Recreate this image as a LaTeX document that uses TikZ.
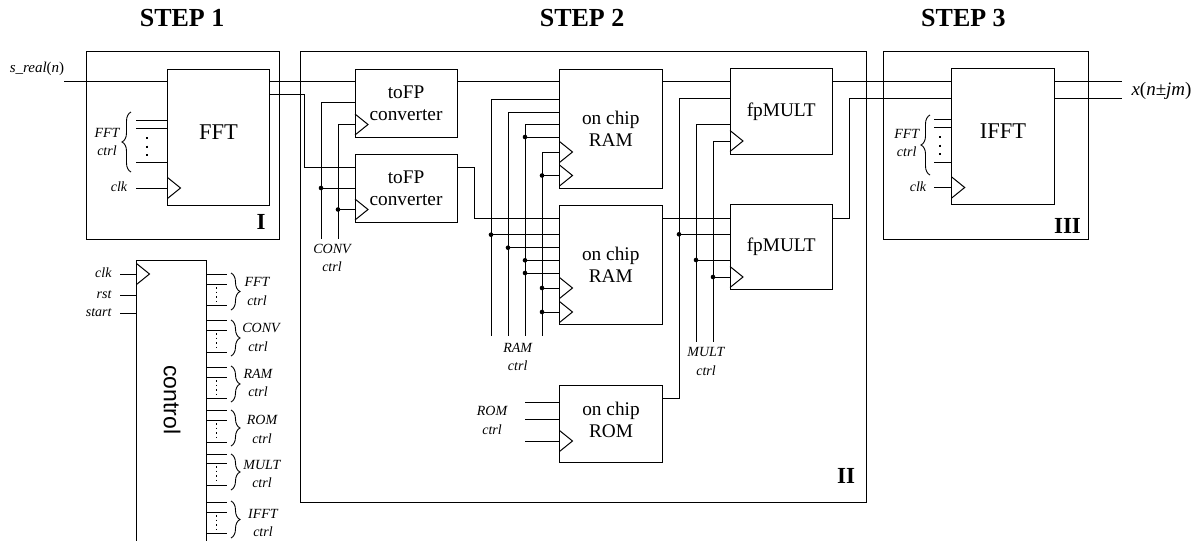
\documentclass[tikz,border=0pt]{standalone}
\usepackage{fontspec}
\setmainfont{Liberation Serif}
\setsansfont{Liberation Sans}
\usetikzlibrary{decorations.pathreplacing}
\newcommand{\ctrlfont}{\fontsize{14}{16}\selectfont\itshape}

\begin{document}
\begin{tikzpicture}[x=1pt, y=-1pt, line width=1pt,
    block/.style={draw, rectangle, anchor=north west, inner sep=0pt, outer sep=0pt, align=center, font=\fontsize{19.3}{22}\selectfont},
    stagebox/.style={draw, rectangle, anchor=north west, inner sep=0pt, outer sep=0pt},
    wire/.style={draw},
    junct/.style={circle, fill, inner sep=0pt, minimum size=4.6pt, outer sep=0pt},
    lbl/.style={font=\ctrlfont, inner sep=0pt, align=center, text height=9pt, text depth=2pt},
    steplbl/.style={font=\fontsize{26}{28}\bfseries, inner sep=0pt, anchor=west},
    stagelbl/.style={font=\fontsize{23}{25}\selectfont\bfseries, inner sep=0pt},
    blockname/.style={font=\fontsize{22.5}{24}\selectfont, inner sep=0pt},
    lbrace/.style={decorate, decoration={brace, amplitude=9pt}, line width=0.9pt},
    rbrace/.style={decorate, decoration={brace, amplitude=9pt}, line width=0.9pt},
    bigdots/.style={line width=2pt, dash pattern=on 2pt off 6.6pt},
    tinydots/.style={line width=1pt, dash pattern=on 1.5pt off 3.1pt},
    clktri/.pic={\draw (0,-10.5) -- (13,0) -- (0,10.5);}]
  \useasboundingbox (0,0) rectangle (1200,541);
  \clip (0,0) rectangle (1200,541);

  \node[steplbl] (step1) at (139.3,18.5) {STEP 1};
  \node[steplbl] (step2) at (539.3,18.5) {STEP 2};
  \node[steplbl] (step3) at (920.7,18.5) {STEP 3};

  % stages
  \node[stagebox, minimum width=193pt, minimum height=187.5pt] (stage1) at (86,51.5) {};
  \node[stagebox, minimum width=566pt, minimum height=450.5pt] (stage2) at (300.7,51.5) {};
  \node[stagebox, minimum width=205pt, minimum height=187.5pt] (stage3) at (883.3,51.5) {};
  \node[stagelbl] (stage1lbl) at (261,221.5) {I};
  \node[stagelbl] (stage2lbl) at (846,476) {II};
  \node[stagelbl] (stage3lbl) at (1067.5,225.6) {III};

  % blocks
  \node[block, minimum width=102pt, minimum height=136pt] (fft) at (167.5,69) {};
  \node[blockname] (fftname) at (218.5,132) {FFT};
  \node[block, minimum width=102pt, minimum height=68pt] (tofpa) at (355,69) {toFP\\converter};
  \node[block, minimum width=102pt, minimum height=68pt] (tofpb) at (355,154) {toFP\\converter};
  \node[block, minimum width=102.5pt, minimum height=119pt] (rama) at (559.5,69) {on chip\\RAM};
  \node[block, minimum width=102.5pt, minimum height=119pt] (ramb) at (559.5,205) {on chip\\RAM};
  \node[block, minimum width=102.5pt, minimum height=77.3pt] (rom) at (559.5,385.5) {};
  \node[inner sep=0pt, align=center, font=\fontsize{19.3}{22}\selectfont] (romname) at (611,419.5) {on chip\\ROM};
  \node[block, minimum width=102.5pt, minimum height=85.3pt] (multa) at (730,68.7) {fpMULT};
  \node[block, minimum width=102.5pt, minimum height=85pt] (multb) at (730,204.7) {fpMULT};
  \node[block, minimum width=102.3pt, minimum height=136.4pt] (ifft) at (951.7,68.3) {};
  \node[blockname] (ifftname) at (1003,131) {IFFT};
  \node[block, minimum width=69.5pt, minimum height=300pt] (ctrlblk) at (136.5,260.5) {};
  \node[rotate=-90, inner sep=0pt, font=\fontsize{23}{25}\selectfont\sffamily] (ctrlname) at (172,400) {control};

  % clock marks
  \pic at (fft.west |- 0,188) {clktri};
  \pic at (tofpa.west |- 0,124.5) {clktri};
  \pic at (tofpb.west |- 0,209.5) {clktri};
  \pic at (rama.west |- 0,152) {clktri};
  \pic at (rama.west |- 0,175.5) {clktri};
  \pic at (ramb.west |- 0,288) {clktri};
  \pic at (ramb.west |- 0,312) {clktri};
  \pic at (rom.west |- 0,441) {clktri};
  \pic at (multa.west |- 0,141) {clktri};
  \pic at (multb.west |- 0,277) {clktri};
  \pic at (ifft.west |- 0,187.5) {clktri};
  \pic at (ctrlblk.west |- 0,274) {clktri};

  % Step 1
  \coordinate (srealin) at (64,81.5);
  \draw[wire] (srealin) -- (fft.west |- srealin);
  \node[lbl, font=\fontsize{15}{17}\selectfont\itshape] (sreallbl) at (37,69) {s\_real\textup{(}n\textup{)}};
  \coordinate (fftca) at (136,120);
  \coordinate (fftcb) at (136,128);
  \coordinate (fftcc) at (136,162);
  \coordinate (fftclk) at (136,188);
  \draw[wire] (fftca) -- (fft.west |- fftca);
  \draw[wire] (fftcb) -- (fft.west |- fftcb);
  \draw[wire] (fftcc) -- (fft.west |- fftcc);
  \draw[wire] (fftclk) -- (fft.west |- fftclk);
  \draw[bigdots] (147,137) -- (147,157);
  \draw[lbrace] (131,172) -- (131,112);
  \node[lbl] (fftctrl) at (107,134) {FFT};
  \node[lbl] (fftctrlb) at (107,152) {ctrl};
  \node[lbl] (fftclklbl) at (119,188) {clk};

  % toFP inputs
  \draw[wire] (fft.east |- srealin) -- (tofpa.west |- srealin);
  \coordinate (fftoutb) at (fft.east |- 0,94.5);
  \draw[wire] (fftoutb) -- (304,94.5) |- (tofpb.west |- 0,167);
  \coordinate (convca) at (321,239);
  \coordinate (convcb) at (338,239);
  \draw[wire] (convca) |- (tofpa.west |- 0,102);
  \draw[wire] (convcb) |- (tofpa.west |- 0,124.5);
  \node[junct] (jca) at (321,188) {};
  \node[junct] (jcb) at (338,209.5) {};
  \draw[wire] (jca) -- (tofpb.west |- jca);
  \draw[wire] (jcb) -- (tofpb.west |- jcb);
  \node[lbl] (convlbl) at (332,250) {CONV};
  \node[lbl] (convlblb) at (332,268) {ctrl};

  % toFP to RAM
  \draw[wire] (tofpa.east |- srealin) -- (rama.west |- srealin);
  \draw[wire] (tofpb.east |- 0,167) -- (474,167) |- (ramb.west |- 0,218);

  % RAM ctrl
  \coordinate (ramca) at (491,335.7);
  \coordinate (ramcb) at (508,335.7);
  \coordinate (ramcc) at (525,335.7);
  \coordinate (ramcd) at (542,335.7);
  \draw[wire] (ramca) |- (rama.west |- 0,99);
  \draw[wire] (ramcb) |- (rama.west |- 0,112);
  \draw[wire] (ramcc) |- (rama.west |- 0,124);
  \draw[wire] (ramcd) |- (rama.west |- 0,152);
  \node[junct] (jra) at (525,137) {};
  \node[junct] (jrb) at (542,175.5) {};
  \node[junct] (jrc) at (491,234.7) {};
  \node[junct] (jrd) at (508,247.7) {};
  \node[junct] (jre) at (525,260.3) {};
  \node[junct] (jrf) at (525,273) {};
  \node[junct] (jrg) at (542,288) {};
  \node[junct] (jrh) at (542,312) {};
  \draw[wire] (jra) -- (rama.west |- jra);
  \draw[wire] (jrb) -- (rama.west |- jrb);
  \draw[wire] (jrc) -- (ramb.west |- jrc);
  \draw[wire] (jrd) -- (ramb.west |- jrd);
  \draw[wire] (jre) -- (ramb.west |- jre);
  \draw[wire] (jrf) -- (ramb.west |- jrf);
  \draw[wire] (jrg) -- (ramb.west |- jrg);
  \draw[wire] (jrh) -- (ramb.west |- jrh);
  \node[lbl] (ramlbl) at (517.7,349) {RAM};
  \node[lbl] (ramlblb) at (517.7,367) {ctrl};

  % ROM
  \coordinate (romca) at (525,402.7);
  \coordinate (romcb) at (525,419.3);
  \coordinate (romcc) at (525,441);
  \draw[wire] (romca) -- (rom.west |- romca);
  \draw[wire] (romcb) -- (rom.west |- romcb);
  \draw[wire] (romcc) -- (rom.west |- romcc);
  \node[lbl] (romlbl) at (492,412) {ROM};
  \node[lbl] (romlblb) at (492,430.5) {ctrl};

  % fpMULT
  \draw[wire] (rama.east |- srealin) -- (multa.west |- srealin);
  \draw[wire] (ramb.east |- 0,218) -- (multb.west |- 0,218);
  \draw[wire] (rom.east |- 0,398) -- (679,398) |- (multa.west |- 0,98.3);
  \coordinate (multca) at (696,341.7);
  \coordinate (multcb) at (713,341.7);
  \draw[wire] (multca) |- (multa.west |- 0,124);
  \draw[wire] (multcb) |- (multa.west |- 0,141);
  \node[junct] (jma) at (679,234.3) {};
  \node[junct] (jmb) at (696,260) {};
  \node[junct] (jmc) at (713,277) {};
  \draw[wire] (jma) -- (multb.west |- jma);
  \draw[wire] (jmb) -- (multb.west |- jmb);
  \draw[wire] (jmc) -- (multb.west |- jmc);
  \node[lbl] (multlbl) at (706,353) {MULT};
  \node[lbl] (multlblb) at (706,371.5) {ctrl};

  % Step 3
  \draw[wire] (multa.east |- srealin) -- (ifft.west |- srealin);
  \draw[wire] (multb.east |- 0,218) -- (849.7,218) |- (ifft.west |- 0,98.3);
  \coordinate (xouta) at (1122,81.5);
  \coordinate (xoutb) at (1122,98.3);
  \draw[wire] (ifft.east |- xouta) -- (xouta);
  \draw[wire] (ifft.east |- xoutb) -- (xoutb);
  \node[inner sep=0pt, anchor=west, font=\fontsize{19}{21}\selectfont] (xlbl) at (1131,91) {\textit{x}(\textit{n}±\textit{jm})};
  \coordinate (ifftca) at (934,119);
  \coordinate (ifftcb) at (934,127.7);
  \coordinate (ifftcc) at (934,162);
  \coordinate (ifftclk) at (934,187.5);
  \draw[wire] (ifftca) -- (ifft.west |- ifftca);
  \draw[wire] (ifftcb) -- (ifft.west |- ifftcb);
  \draw[wire] (ifftcc) -- (ifft.west |- ifftcc);
  \draw[wire] (ifftclk) -- (ifft.west |- ifftclk);
  \draw[bigdots] (939.7,136) -- (939.7,157);
  \draw[lbrace] (930,175) -- (930,115);
  \node[lbl] (ifftctrl) at (906.7,135) {FFT};
  \node[lbl] (ifftctrlb) at (906.7,153) {ctrl};
  \node[lbl] (ifftclklbl) at (918,187.5) {clk};

  % control inputs
  \coordinate (cclk) at (120,274);
  \coordinate (crst) at (120,295);
  \coordinate (cstart) at (120,313);
  \draw[wire] (cclk) -- (ctrlblk.west |- cclk);
  \draw[wire] (crst) -- (ctrlblk.west |- crst);
  \draw[wire] (cstart) -- (ctrlblk.west |- cstart);
  \node[lbl, anchor=east] (cclklbl) at (112,274) {clk};
  \node[lbl, anchor=east] (crstlbl) at (112,295) {rst};
  \node[lbl, anchor=east] (cstartlbl) at (112,313) {start};

  % control outputs
  \draw[wire] (ctrlblk.east |- 0,274) -- (227,274);
  \draw[wire] (ctrlblk.east |- 0,284) -- (227,284);
  \draw[wire] (ctrlblk.east |- 0,305) -- (227,305);
  \draw[tinydots] (216,287) -- (216,303);
  \draw[rbrace] (231,273) -- (231,310);
  \node[lbl] (o1a) at (257,283) {FFT};
  \node[lbl] (o1b) at (257,302) {ctrl};

  \draw[wire] (ctrlblk.east |- 0,320) -- (227,320);
  \draw[wire] (ctrlblk.east |- 0,330) -- (227,330);
  \draw[wire] (ctrlblk.east |- 0,352) -- (227,352);
  \draw[tinydots] (216,333) -- (216,350);
  \draw[rbrace] (231,320) -- (231,356);
  \node[lbl] (o2a) at (261,329) {CONV};
  \node[lbl] (o2b) at (258,348) {ctrl};

  \draw[wire] (ctrlblk.east |- 0,367) -- (227,367);
  \draw[wire] (ctrlblk.east |- 0,377) -- (227,377);
  \draw[wire] (ctrlblk.east |- 0,398) -- (227,398);
  \draw[tinydots] (216,380) -- (216,396);
  \draw[rbrace] (231,366) -- (231,402);
  \node[lbl] (o3a) at (258,375) {RAM};
  \node[lbl] (o3b) at (258,393) {ctrl};

  \draw[wire] (ctrlblk.east |- 0,410) -- (227,410);
  \draw[wire] (ctrlblk.east |- 0,420) -- (227,420);
  \draw[wire] (ctrlblk.east |- 0,442) -- (227,442);
  \draw[tinydots] (216,423) -- (216,440);
  \draw[rbrace] (231,410) -- (231,446);
  \node[lbl] (o4a) at (262,421) {ROM};
  \node[lbl] (o4b) at (262,440) {ctrl};

  \draw[wire] (ctrlblk.east |- 0,454) -- (227,454);
  \draw[wire] (ctrlblk.east |- 0,463) -- (227,463);
  \draw[wire] (ctrlblk.east |- 0,485) -- (227,485);
  \draw[tinydots] (216,466) -- (216,483);
  \draw[rbrace] (231,454) -- (231,490);
  \node[lbl] (o5a) at (262,466) {MULT};
  \node[lbl] (o5b) at (262,484) {ctrl};

  \draw[wire] (ctrlblk.east |- 0,502) -- (227,502);
  \draw[wire] (ctrlblk.east |- 0,512) -- (227,512);
  \draw[wire] (ctrlblk.east |- 0,533) -- (227,533);
  \draw[tinydots] (216,515) -- (216,531);
  \draw[rbrace] (231,501) -- (231,538);
  \node[lbl] (o6a) at (263,515) {IFFT};
  \node[lbl] (o6b) at (263,533) {ctrl};
\end{tikzpicture}
\end{document}
